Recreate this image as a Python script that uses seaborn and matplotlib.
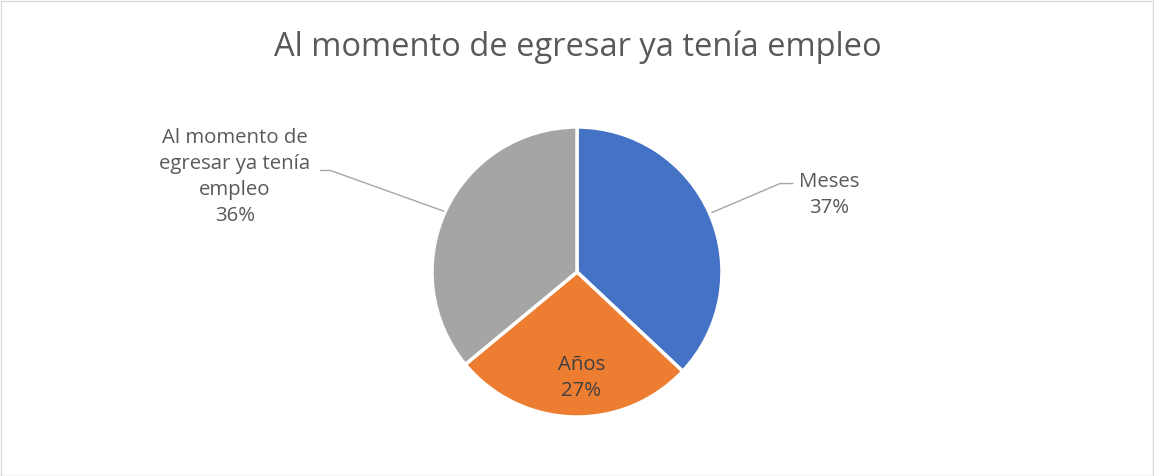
import matplotlib
matplotlib.use("Agg")
import matplotlib.pyplot as plt
import seaborn as sns

title = "Al momento de egresar ya tenía empleo"
categories = ["Meses", "Años", "Al momento de\negresar ya tenía\nempleo"]
values = [37, 27, 36]
pct_labels = ["37%", "27%", "36%"]
colors = ["#4472C4", "#ED7D31", "#A5A5A5"]

sns.set_style("white")
plt.rcParams['font.family'] = ['Open Sans', 'DejaVu Sans']

W, H = 1154, 476
fig = plt.figure(figsize=(W / 100, H / 100), dpi=100)
fig.patch.set_facecolor("white")

border = plt.Rectangle((0.5 / W, 0.5 / H), 1 - 1.5 / W, 1 - 1.5 / H, transform=fig.transFigure,
                       fill=False, edgecolor="#D9D9D9", linewidth=1)
fig.add_artist(border)

cx, cy, r = 577, 272, 145
ax = fig.add_axes([(cx - r) / W, (H - cy - r) / H, 2 * r / W, 2 * r / H])
ax.pie(values, colors=sns.color_palette(colors), startangle=90, counterclock=False,
       radius=1, wedgeprops=dict(edgecolor="white", linewidth=2.5))
ax.set_xlim(-1, 1)
ax.set_ylim(-1, 1)
ax.set_aspect("equal")
ax.axis("off")

txt_color = "#595959"
fs = 14.7
ls = 1.4
ax.text(1.74, 0.53, f"{categories[0]}\n{pct_labels[0]}", ha="center", va="center",
        fontsize=fs, color=txt_color, linespacing=ls, clip_on=False)
ax.plot([0.93, 1.40, 1.49], [0.41, 0.61, 0.61], color="#A6A6A6", lw=1, clip_on=False)
ax.text(0.03, -0.73, f"{categories[1]}\n{pct_labels[1]}", ha="center", va="center",
        fontsize=fs, color="#404040", linespacing=ls, clip_on=False)
ax.text(-2.36, 0.655, f"{categories[2]}\n{pct_labels[2]}", ha="center", va="center",
        fontsize=fs, color=txt_color, linespacing=ls, clip_on=False)
ax.plot([-0.92, -1.70, -1.77], [0.42, 0.70, 0.70], color="#A6A6A6", lw=1, clip_on=False)

fig.text(578 / W, 1 - 47 / H, title, ha="center", va="center", fontsize=23.5, color=txt_color)

fig.savefig("out.png", dpi=100, facecolor="white")
